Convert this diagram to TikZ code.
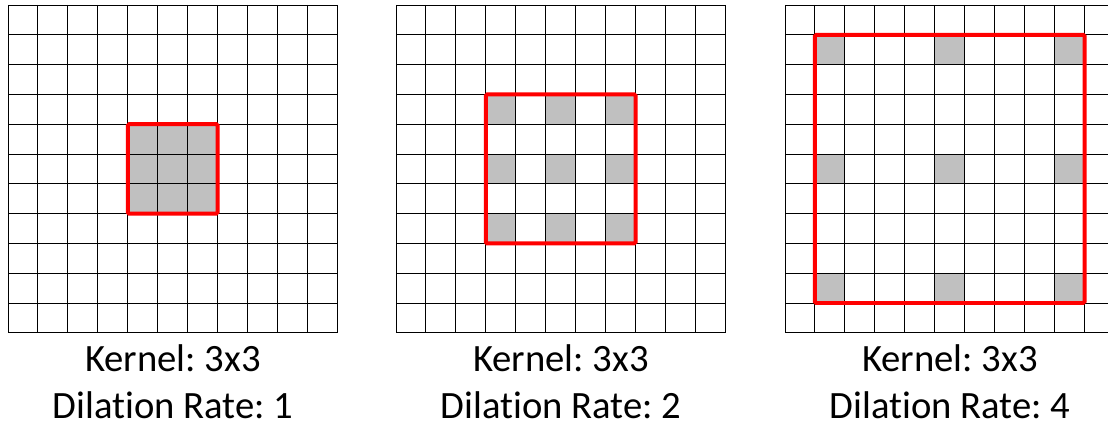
\documentclass[tikz,border=0pt]{standalone}
\usepackage{fontspec}
\setmainfont[Ligatures=NoCommon]{Carlito}
\usetikzlibrary{positioning}
\definecolor{KGray}{HTML}{C0C0C0}
\definecolor{KRed}{HTML}{FF0000}
\tikzset{
  gridline/.style={black,line width=0.8pt},
  tap/.style={fill=KGray,draw=none},
  window/.style={draw=KRed,line width=3.4pt,rounded corners=0.4mm},
  caption/.style={text=black,font=\fontsize{33}{39}\selectfont,anchor=base,inner sep=0pt},
}
\frenchspacing
\begin{document}
\begin{tikzpicture}[x=0.03cm,y=-0.03cm]
    \useasboundingbox (0,0) rectangle (1108,427);
    \clip (0,0) rectangle (1108,427);
    \foreach \gx/\r in {8/1,396/2,785/4}{
      % taps of the dilated kernel
      \foreach \i in {-1,0,1}{
        \foreach \j in {-1,0,1}{
          \fill[tap] ({\gx+(5+\i*\r)*29.95},{5+(5+\j*\r)*29.8}) rectangle ++(29.95,29.8);
        }
      }
      \foreach \k in {0,...,11}{
        \draw[gridline] ({\gx+\k*29.95},5)--({\gx+\k*29.95},332.8);
        \draw[gridline] (\gx,{5+\k*29.8})--({\gx+329.45},{5+\k*29.8});
      }
      \draw[window] ({\gx+(5-\r)*29.95},{5+(5-\r)*29.8}) rectangle ({\gx+(6+\r)*29.95},{5+(6+\r)*29.8});
      \node[caption] (kernel\r) at (\gx+165,371) {Kernel: 3x3};
      \node[caption] (rate\r) at (\gx+165,418) {Dilation Rate: \r};
    }
  \end{tikzpicture}
\end{document}
